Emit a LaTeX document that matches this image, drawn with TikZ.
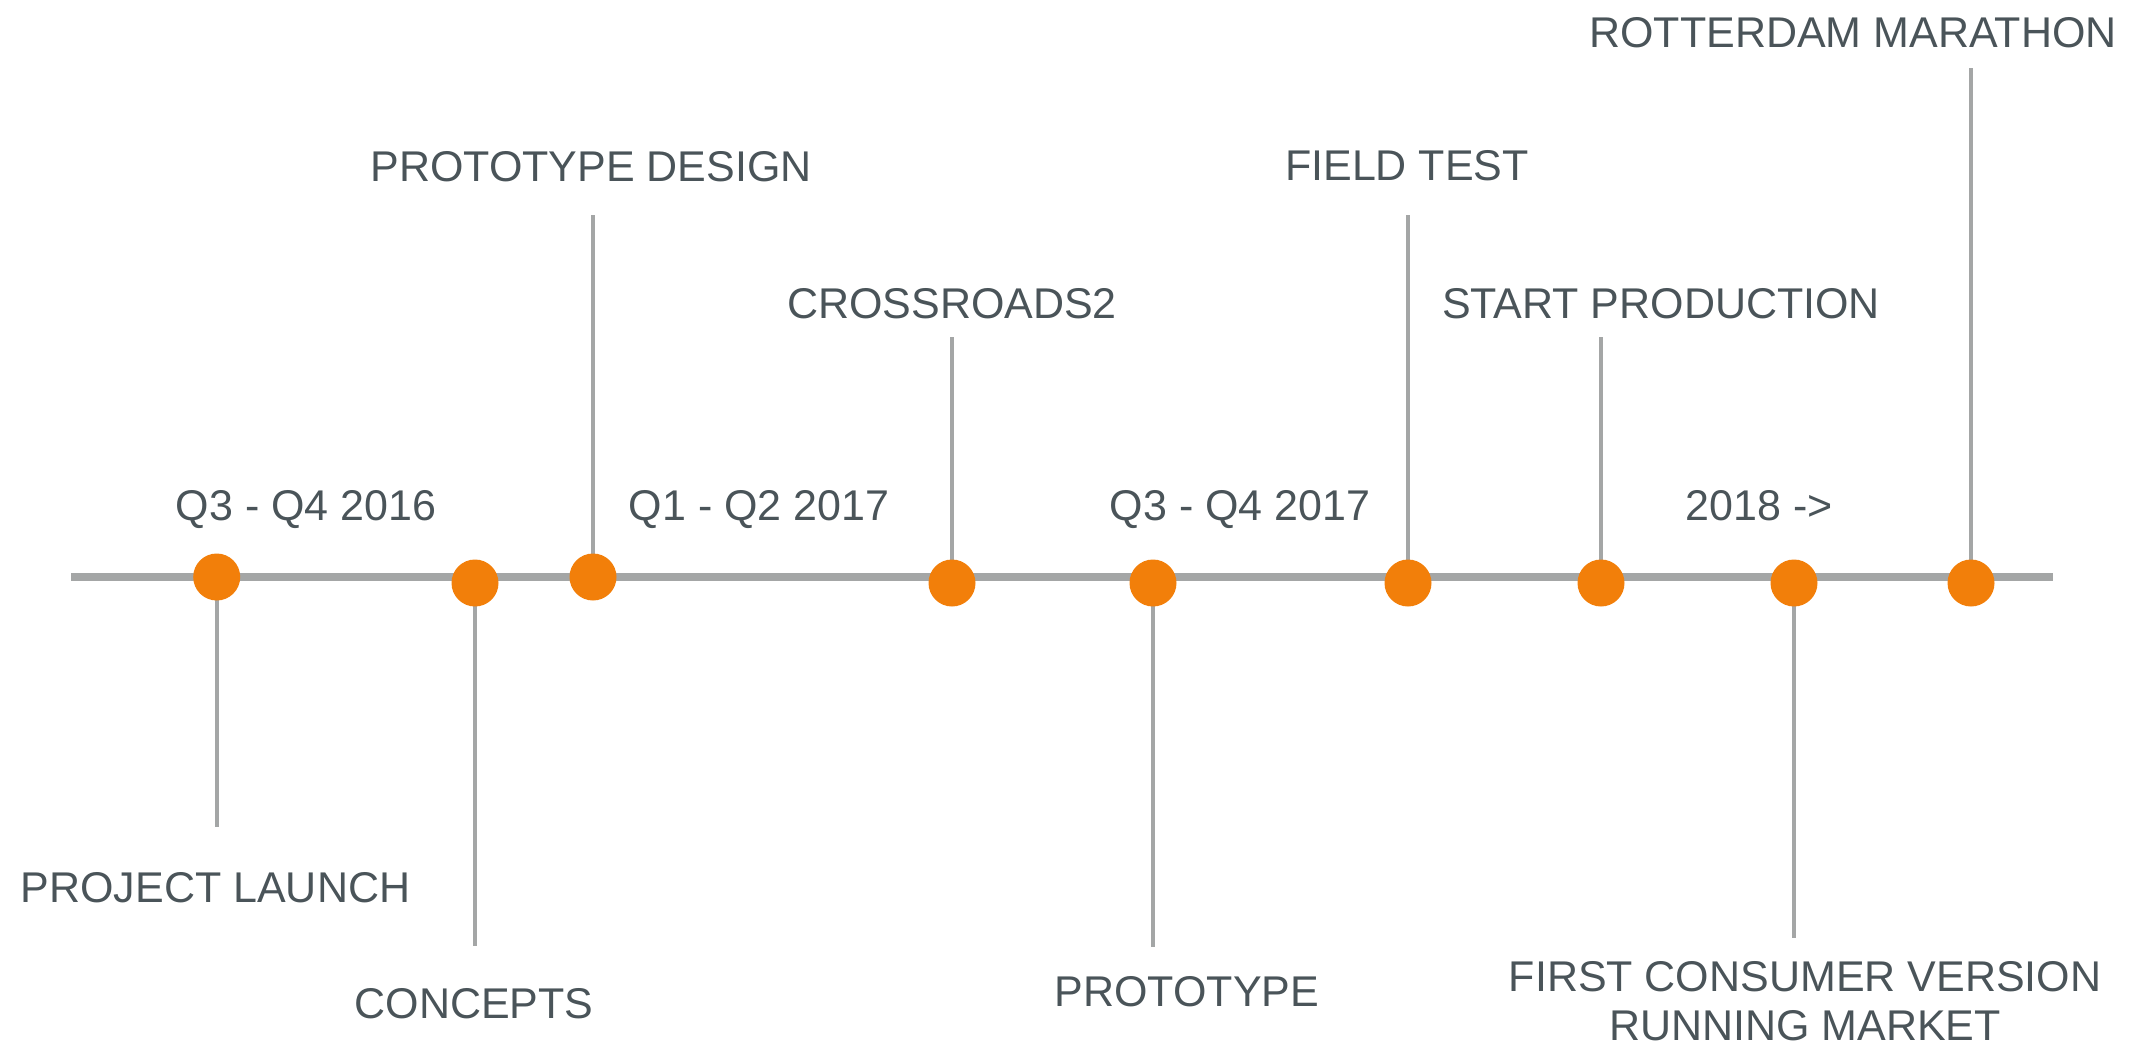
\documentclass[tikz,border=0pt]{standalone}
\usepackage{fontspec}
\setmainfont{Liberation Sans}
\usetikzlibrary{backgrounds}
\definecolor{axisgray}{HTML}{A4A6A6}
\definecolor{dotorange}{HTML}{F27F0A}
\definecolor{labeltext}{HTML}{4A5459}
\tikzset{
  dotnode/.style={circle,fill=dotorange,draw=none,minimum size=23.5pt,inner sep=0pt},
  stem/.style={draw=axisgray,line width=2pt},
  axisline/.style={draw=axisgray,line width=4pt},
  lbl/.style={anchor=base,inner sep=0pt,text=labeltext,font=\fontsize{21.5}{24.5}\selectfont,align=center}
}
\begin{document}
\begin{tikzpicture}[x=0.5pt,y=-0.5pt]
\useasboundingbox (0,0) rectangle (2136,1050);
% axis ends
\coordinate (axL) at (71,577);
\coordinate (axR) at (2053,577);
% milestones
\node[dotnode] (d1) at (216.7,577) {};
\node[dotnode] (d2) at (475,583) {};
\node[dotnode] (d3) at (593,577) {};
\node[dotnode] (d4) at (952,583) {};
\node[dotnode] (d5) at (1153,583) {};
\node[dotnode] (d6) at (1408,583) {};
\node[dotnode] (d7) at (1601,583) {};
\node[dotnode] (d8) at (1794,583) {};
\node[dotnode] (d9) at (1971,583) {};
% stem ends
\coordinate (e1) at (216.7,827);
\coordinate (e2) at (475,946);
\coordinate (e3) at (593,215);
\coordinate (e4) at (952,337);
\coordinate (e5) at (1153,947);
\coordinate (e6) at (1408,215);
\coordinate (e7) at (1601,337);
\coordinate (e8) at (1794,938);
\coordinate (e9) at (1971,68);
\begin{scope}[on background layer]
\draw[axisline] (axL) -- (axR);
\foreach \i in {1,...,9} {\draw[stem] (d\i.center) -- (e\i);}
\end{scope}
% period labels
\node[lbl] (p1) at (306,520) {Q3 - Q4 2016};
\node[lbl] (p2) at (759,520) {Q1 - Q2 2017};
\node[lbl] (p3) at (1240,520) {Q3 - Q4 2017};
\node[lbl] (p4) at (1759,520) {2018 ->};
% milestone labels
\node[lbl] (t1) at (215.5,902) {PROJECT LAUNCH};
\node[lbl] (t2) at (474,1018) {CONCEPTS};
\node[lbl] (t3) at (591,181) {PROTOTYPE DESIGN};
\node[lbl] (t4) at (952,318) {CROSSROADS2};
\node[lbl] (t5) at (1187,1006) {PROTOTYPE};
\node[lbl] (t6) at (1407,180) {FIELD TEST};
\node[lbl] (t7) at (1661,318) {START PRODUCTION};
\node[lbl] (t8) at (1805,1040) {FIRST CONSUMER VERSION\\RUNNING MARKET};
\node[lbl] (t9) at (1853,47) {ROTTERDAM MARATHON};
\end{tikzpicture}
\end{document}
